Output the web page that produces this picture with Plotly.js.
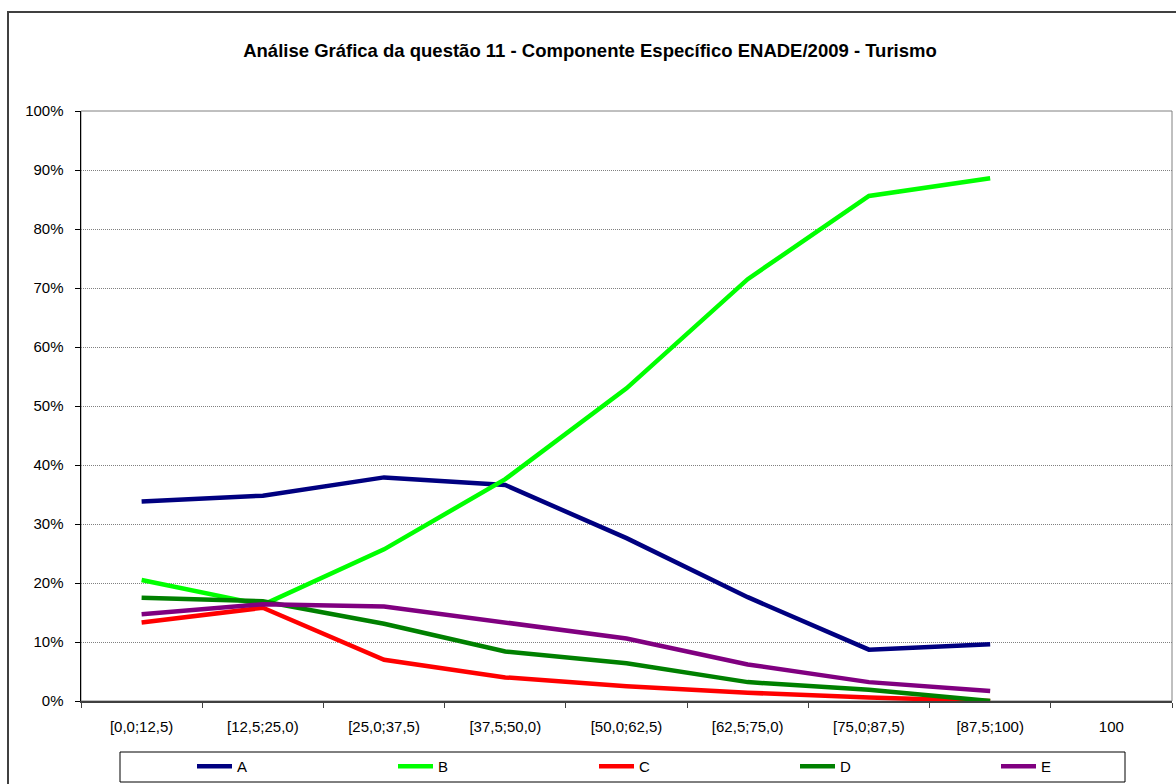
<!DOCTYPE html>
<html>
<head>
<meta charset="utf-8">
<script src="https://cdn.plot.ly/plotly-3.0.1.min.js"></script>
<style>
html,body{margin:0;padding:0;overflow:hidden;background:#fff;}
#chart{width:1176px;height:784px;position:relative;}
#frame{position:absolute;left:7px;top:11px;width:1200px;height:800px;border:2px solid #404040;pointer-events:none;}
</style>
</head>
<body>
<div id="chart"></div>
<div id="frame"></div>
<script>
var categories = ["[0,0;12,5)", "[12,5;25,0)", "[25,0;37,5)", "[37,5;50,0)", "[50,0;62,5)", "[62,5;75,0)", "[75,0;87,5)", "[87,5;100)", "100"];
var seriesNames = ["A", "B", "C", "D", "E"];
var seriesA = [33.8, 34.8, 37.9, 36.6, 27.6, 17.6, 8.7, 9.6];
var seriesB = [20.5, 16.3, 25.7, 37.6, 53.0, 71.5, 85.6, 88.6];
var seriesC = [13.3, 15.8, 7.0, 4.0, 2.5, 1.4, 0.6, 0.0];
var seriesD = [17.5, 16.9, 13.1, 8.4, 6.4, 3.2, 1.9, 0.0];
var seriesE = [14.7, 16.4, 16.0, 13.3, 10.6, 6.2, 3.2, 1.7];
var seriesColors = ["#000080", "#00FF00", "#FF0000", "#008000", "#800080"];
var titleText = "Análise Gráfica da questão 11 - Componente Específico ENADE/2009 - Turismo";

var allSeries = [seriesA, seriesB, seriesC, seriesD, seriesE];
var font = "Liberation Sans, Arial, sans-serif";
var traces = allSeries.map(function (vals, i) {
  return {
    type: "scatter",
    mode: "lines",
    name: seriesNames[i],
    x: categories.slice(0, vals.length),
    y: vals,
    line: {color: seriesColors[i], width: 4.5},
    hoverinfo: "skip"
  };
});

var layout = {
  width: 1176,
  height: 784,
  margin: {l: 81, r: 4, t: 111, b: 83, pad: 0, autoexpand: false},
  paper_bgcolor: "rgba(0,0,0,0)",
  plot_bgcolor: "#ffffff",
  font: {family: font, size: 15, color: "#000"},
  title: {
    text: "<b>" + titleText + "</b>",
    font: {family: font, size: 18.5, color: "#000"},
    x: 590 / 1176, xanchor: "center", xref: "container",
    y: 1 - 51 / 784, yanchor: "middle", yref: "container",
    automargin: false
  },
  showlegend: true,
  legend: {
    orientation: "h",
    xref: "container", yref: "container",
    x: 192 / 1176, xanchor: "left",
    y: 1 - 750 / 784, yanchor: "top",
    bgcolor: "rgba(0,0,0,0)",
    borderwidth: 0,
    font: {family: font, size: 15, color: "#000"},
    itemwidth: 35,
    entrywidth: 151,
    entrywidthmode: "pixels",
    traceorder: "normal"
  },
  xaxis: {
    type: "category",
    categoryorder: "array",
    categoryarray: categories,
    range: [-0.5, categories.length - 0.5],
    automargin: false,
    showgrid: false,
    showline: true,
    linecolor: "#404040",
    linewidth: 2,
    ticks: "outside",
    tickson: "boundaries",
    ticklen: 5,
    tickcolor: "#404040",
    tickwidth: 1,
    tickfont: {family: font, size: 15, color: "#000"},
    ticklabelstandoff: 11,
    zeroline: false,
    fixedrange: true
  },
  yaxis: {
    range: [0, 100],
    dtick: 10,
    tick0: 0,
    ticksuffix: "%",
    automargin: false,
    showgrid: true,
    gridcolor: "#808080",
    griddash: "1px,1px",
    gridwidth: 1,
    showline: true,
    linecolor: "#000",
    linewidth: 1.5,
    ticks: "outside",
    ticklen: 5,
    tickcolor: "#000",
    tickwidth: 1,
    tickfont: {family: font, size: 15, color: "#000"},
    ticklabelstandoff: 8,
    zeroline: false,
    fixedrange: true
  },
  shapes: [
    {type: "rect", xref: "paper", yref: "paper", x0: 0, x1: 1, y0: 0, y1: 1,
     line: {color: "#808080", width: 1}, layer: "below"},
    {type: "rect", xref: "paper", yref: "paper",
     x0: (120 - 81) / 1091, x1: (1125 - 81) / 1091,
     y0: (701 - 782) / 590, y1: (701 - 752) / 590,
     line: {color: "#000", width: 1}, fillcolor: "rgba(0,0,0,0)", layer: "above"}
  ]
};

Plotly.newPlot("chart", traces, layout, {staticPlot: true, displayModeBar: false});
</script>
</body>
</html>
